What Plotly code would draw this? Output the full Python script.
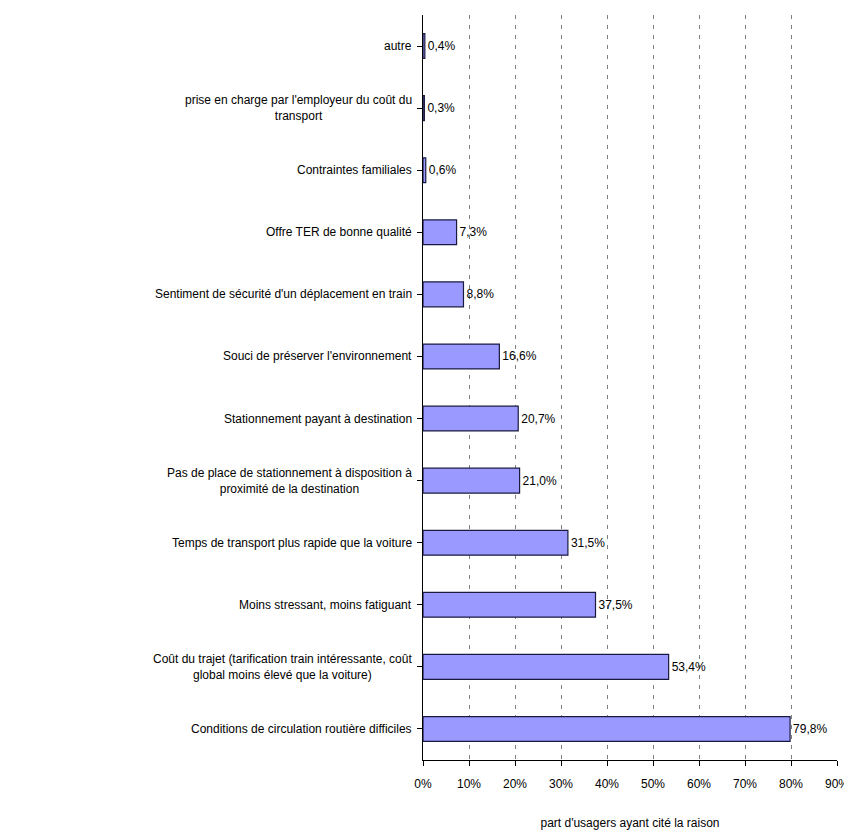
import plotly.graph_objects as go

categories = [
    "Conditions de circulation routière difficiles",
    "Coût du trajet (tarification train intéressante, coût<br>global moins élevé que la voiture)",
    "Moins stressant, moins fatiguant",
    "Temps de transport plus rapide que la voiture",
    "Pas de place de stationnement à disposition à<br>proximité de la destination",
    "Stationnement payant à destination",
    "Souci de préserver l'environnement",
    "Sentiment de sécurité d'un déplacement en train",
    "Offre TER de bonne qualité",
    "Contraintes familiales",
    "prise en charge par l'employeur du coût du<br>transport",
    "autre",
]
values = [79.8, 53.4, 37.5, 31.5, 21.0, 20.7, 16.6, 8.8, 7.3, 0.6, 0.3, 0.4]
tick_vals = [0, 10, 20, 30, 40, 50, 60, 70, 80, 90]
tick_text = ["0%", "10%", "20%", "30%", "40%", "50%", "60%", "70%", "80%", "90%"]
x_title = "part d'usagers ayant cité la raison"

labels = [f"{v:.1f}%".replace(".", ",") for v in values]

FONT = "Liberation Sans, Arial, sans-serif"

fig = go.Figure(go.Bar(
    y=list(range(len(categories))),
    x=values,
    orientation="h",
    width=0.4,
    marker=dict(color="#9999FF", line=dict(color="#1a1a40", width=1.2)),
    text=labels,
    textposition="outside",
    textfont=dict(family=FONT, size=12, color="black"),
    cliponaxis=False,
))

for i, c in enumerate(categories):
    fig.add_annotation(
        x=0, xref="paper", y=i, yref="y", text=c,
        xanchor="right", xshift=-9, align="center", showarrow=False,
        font=dict(family=FONT, size=12, color="black"),
    )

fig.update_layout(
    width=844, height=822,
    margin=dict(l=415, r=15, t=7, b=70),
    paper_bgcolor="white", plot_bgcolor="white",
    showlegend=False,
    font=dict(family=FONT, size=12, color="black"),
    xaxis=dict(
        range=[0, 90], tickvals=tick_vals, ticktext=tick_text,
        showgrid=True, gridcolor="#808080", griddash="4px,6px", gridwidth=1,
        showline=True, linecolor="black", linewidth=1,
        ticks="outside", ticklen=5, tickcolor="black",
        ticklabelstandoff=8,
        zeroline=False,
        automargin=False,
        title=dict(text=x_title, font=dict(family=FONT, size=12), standoff=30),
    ),
    yaxis=dict(
        range=[-0.5, len(categories) - 0.5],
        tickvals=list(range(len(categories))),
        showticklabels=False,
        tickson="boundaries",
        ticks="outside", ticklen=5, tickcolor="black",
        showline=True, linecolor="black", linewidth=1,
        showgrid=False, zeroline=False,
    ),
)

fig.write_html("out.html")
